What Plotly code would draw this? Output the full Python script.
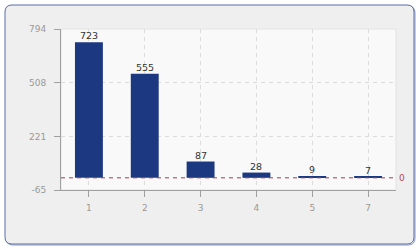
import plotly.graph_objects as go

categories = ["1", "2", "3", "4", "5", "7"]
values = [723, 555, 87, 28, 9, 7]
y_ticks = [-65, 221, 508, 794]

W, H = 420, 250
L, R, T, B = 61, 24, 29, 60
PW, PH = W - L - R, H - T - B


def px(x):
    return (x - L) / PW


def py(y):
    return (H - B - y) / PH


def rounded_rect(x0, y0, x1, y1, r):
    return (
        f"M {px(x0 + r)},{py(y0)} L {px(x1 - r)},{py(y0)} "
        f"Q {px(x1)},{py(y0)} {px(x1)},{py(y0 + r)} "
        f"L {px(x1)},{py(y1 - r)} Q {px(x1)},{py(y1)} {px(x1 - r)},{py(y1)} "
        f"L {px(x0 + r)},{py(y1)} Q {px(x0)},{py(y1)} {px(x0)},{py(y1 - r)} "
        f"L {px(x0)},{py(y0 + r)} Q {px(x0)},{py(y0)} {px(x0 + r)},{py(y0)} Z"
    )


fig = go.Figure()
fig.add_trace(go.Bar(
    x=categories, y=values,
    marker=dict(color="#1b3880", line=dict(width=0)),
    width=0.5,
))

shapes = [
    dict(type="path", xref="paper", yref="paper", layer="below",
         path=rounded_rect(6, 6, 415, 245, 7),
         line=dict(color="#8a9acb", width=1), fillcolor="rgba(0,0,0,0)"),
    dict(type="path", xref="paper", yref="paper", layer="below",
         path=rounded_rect(5, 5, 414, 244, 7),
         line=dict(color="#5a6da8", width=1), fillcolor="#efefef"),
    dict(type="rect", xref="paper", yref="paper", layer="below",
         x0=0, x1=1, y0=0, y1=1,
         line=dict(color="#e2e2e2", width=1), fillcolor="#f9f9f9"),
    dict(type="line", xref="paper", yref="y", layer="above",
         x0=0, x1=1, y0=0, y1=0,
         line=dict(color="#a33a50", width=1, dash="4px,4px")),
]

annotations = [dict(xref="paper", yref="y", x=1, y=0, text="0",
                    showarrow=False, xanchor="left", xshift=1,
                    font=dict(family="DejaVu Sans", size=9, color="#b04a5c"))]
for i, v in enumerate(values):
    annotations.append(dict(
        x=i, y=v, xref="x", yref="y", text=str(v), showarrow=False,
        xanchor="center", yanchor="bottom", yshift=-1,
        font=dict(family="DejaVu Sans", size=9.5, color="#333333"),
    ))

fig.update_layout(
    width=W, height=H,
    margin=dict(l=L, r=R, t=T, b=B, pad=0),
    paper_bgcolor="white",
    plot_bgcolor="rgba(0,0,0,0)",
    showlegend=False,
    bargap=0.5,
    shapes=shapes,
    font=dict(family="DejaVu Sans", size=9, color="#999999"),
    annotations=annotations,
)
fig.update_xaxes(
    type="category", range=[-0.5, 5.5],
    showline=True, linecolor="#a0a0a0", linewidth=1,
    ticks="outside", ticklen=6, tickcolor="#a0a0a0",
    ticklabelstandoff=3,
    showgrid=True, gridcolor="#dcdcdc", griddash="4px,4px", gridwidth=1,
    tickfont=dict(family="DejaVu Sans", size=9, color="#999999"),
    fixedrange=True,
)
fig.update_yaxes(
    range=[-65, 794], tickvals=y_ticks, ticktext=[str(v) for v in y_ticks],
    showline=True, linecolor="#a0a0a0", linewidth=1,
    ticks="outside", ticklen=6, tickcolor="#a0a0a0",
    ticklabelstandoff=6,
    showgrid=True, gridcolor="#dcdcdc", griddash="4px,4px", gridwidth=1,
    zeroline=False,
    tickfont=dict(family="DejaVu Sans", size=9, color="#999999"),
    fixedrange=True,
)

fig.write_html("out.html")
